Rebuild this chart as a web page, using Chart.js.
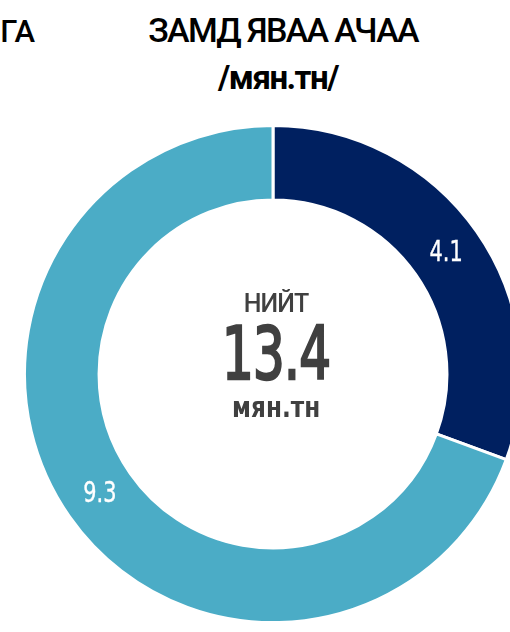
<!DOCTYPE html>
<html>
<head>
<meta charset="utf-8">
<script src="https://cdn.jsdelivr.net/npm/chart.js@4/dist/chart.umd.min.js"></script>
<style>
  html, body { margin: 0; padding: 0; background: #fff; }
  body { width: 510px; height: 632px; overflow: hidden; position: relative; }
  .t { position: absolute; white-space: nowrap; line-height: 1; }
  #prev { right: 475px; top: 13px; font: 500 31px Roboto, "Liberation Sans", sans-serif; color: #000; }
  #title1 { left: 0; width: 566px; text-align: center; top: 10px; font: 500 34px Roboto, "Liberation Sans", sans-serif; letter-spacing: -1.7px; color: #000; }
  #title2 { left: 0; width: 556px; text-align: center; top: 58px; font: 700 33px Roboto, "Liberation Sans", sans-serif; letter-spacing: -1.5px; color: #000; }
  #chartWrap { position: absolute; left: 23px; top: 124px; width: 500px; height: 500px; }
  .c { left: 0; width: 552px; text-align: center; color: #404040; }
  .c span { display: inline-block; transform-origin: 50% 50%; }
  #cLabel { top: 289px; font: 500 25px Roboto, sans-serif; letter-spacing: -1px; }
  #cValue { top: 317px; font-size: 73px; font-weight: 400; font-family: "DejaVu Sans Condensed", "DejaVu Sans", sans-serif; }
  #cValue span { transform: scaleX(0.76); letter-spacing: -1px; -webkit-text-stroke: 2.5px #404040; }
  #cUnit { top: 393px; font-size: 29px; font-weight: 700; font-family: "DejaVu Sans", sans-serif; }
  #cUnit span { transform: scaleX(0.8); }
</style>
</head>
<body>
<div class="t" id="prev">ГА</div>
<div class="t" id="title1">ЗАМД ЯВАА АЧАА</div>
<div class="t" id="title2">/мян.тн/</div>
<div id="chartWrap"><canvas id="chart" width="500" height="500"></canvas></div>
<div class="t c" id="cLabel"><span>НИЙТ</span></div>
<div class="t c" id="cValue"><span>13.4</span></div>
<div class="t c" id="cUnit"><span>мян.тн</span></div>
<script>
const categories = ["Ачаа 1", "Ачаа 2"];
const values = [4.1, 9.3];
const colors = ["#002060", "#4BACC6"];

const labelPlugin = {
  id: "sliceLabels",
  afterDatasetsDraw(chart) {
    const ctx = chart.ctx;
    const meta = chart.getDatasetMeta(0);
    meta.data.forEach((arc, i) => {
      const p = arc.tooltipPosition();
      ctx.save();
      ctx.translate(p.x, p.y);
      ctx.scale(0.8, 1);
      ctx.fillStyle = "#ffffff";
      ctx.strokeStyle = "#ffffff";
      ctx.lineWidth = 0.4;
      ctx.font = '400 29px "DejaVu Sans Condensed", "DejaVu Sans", sans-serif';
      ctx.textAlign = "center";
      ctx.textBaseline = "middle";
      const s = values[i].toFixed(1);
      ctx.fillText(s, 0, 0);
      ctx.strokeText(s, 0, 0);
      ctx.restore();
    });
  }
};

new Chart(document.getElementById("chart"), {
  type: "doughnut",
  data: {
    labels: categories,
    datasets: [{
      data: values,
      backgroundColor: colors,
      borderColor: "#ffffff",
      borderWidth: 3
    }]
  },
  options: {
    responsive: false,
    animation: false,
    devicePixelRatio: 1,
    cutout: "70%",
    layout: { padding: 0 },
    plugins: {
      legend: { display: false },
      tooltip: { enabled: false },
      title: { display: false }
    }
  },
  plugins: [labelPlugin]
});
</script>
</body>
</html>
